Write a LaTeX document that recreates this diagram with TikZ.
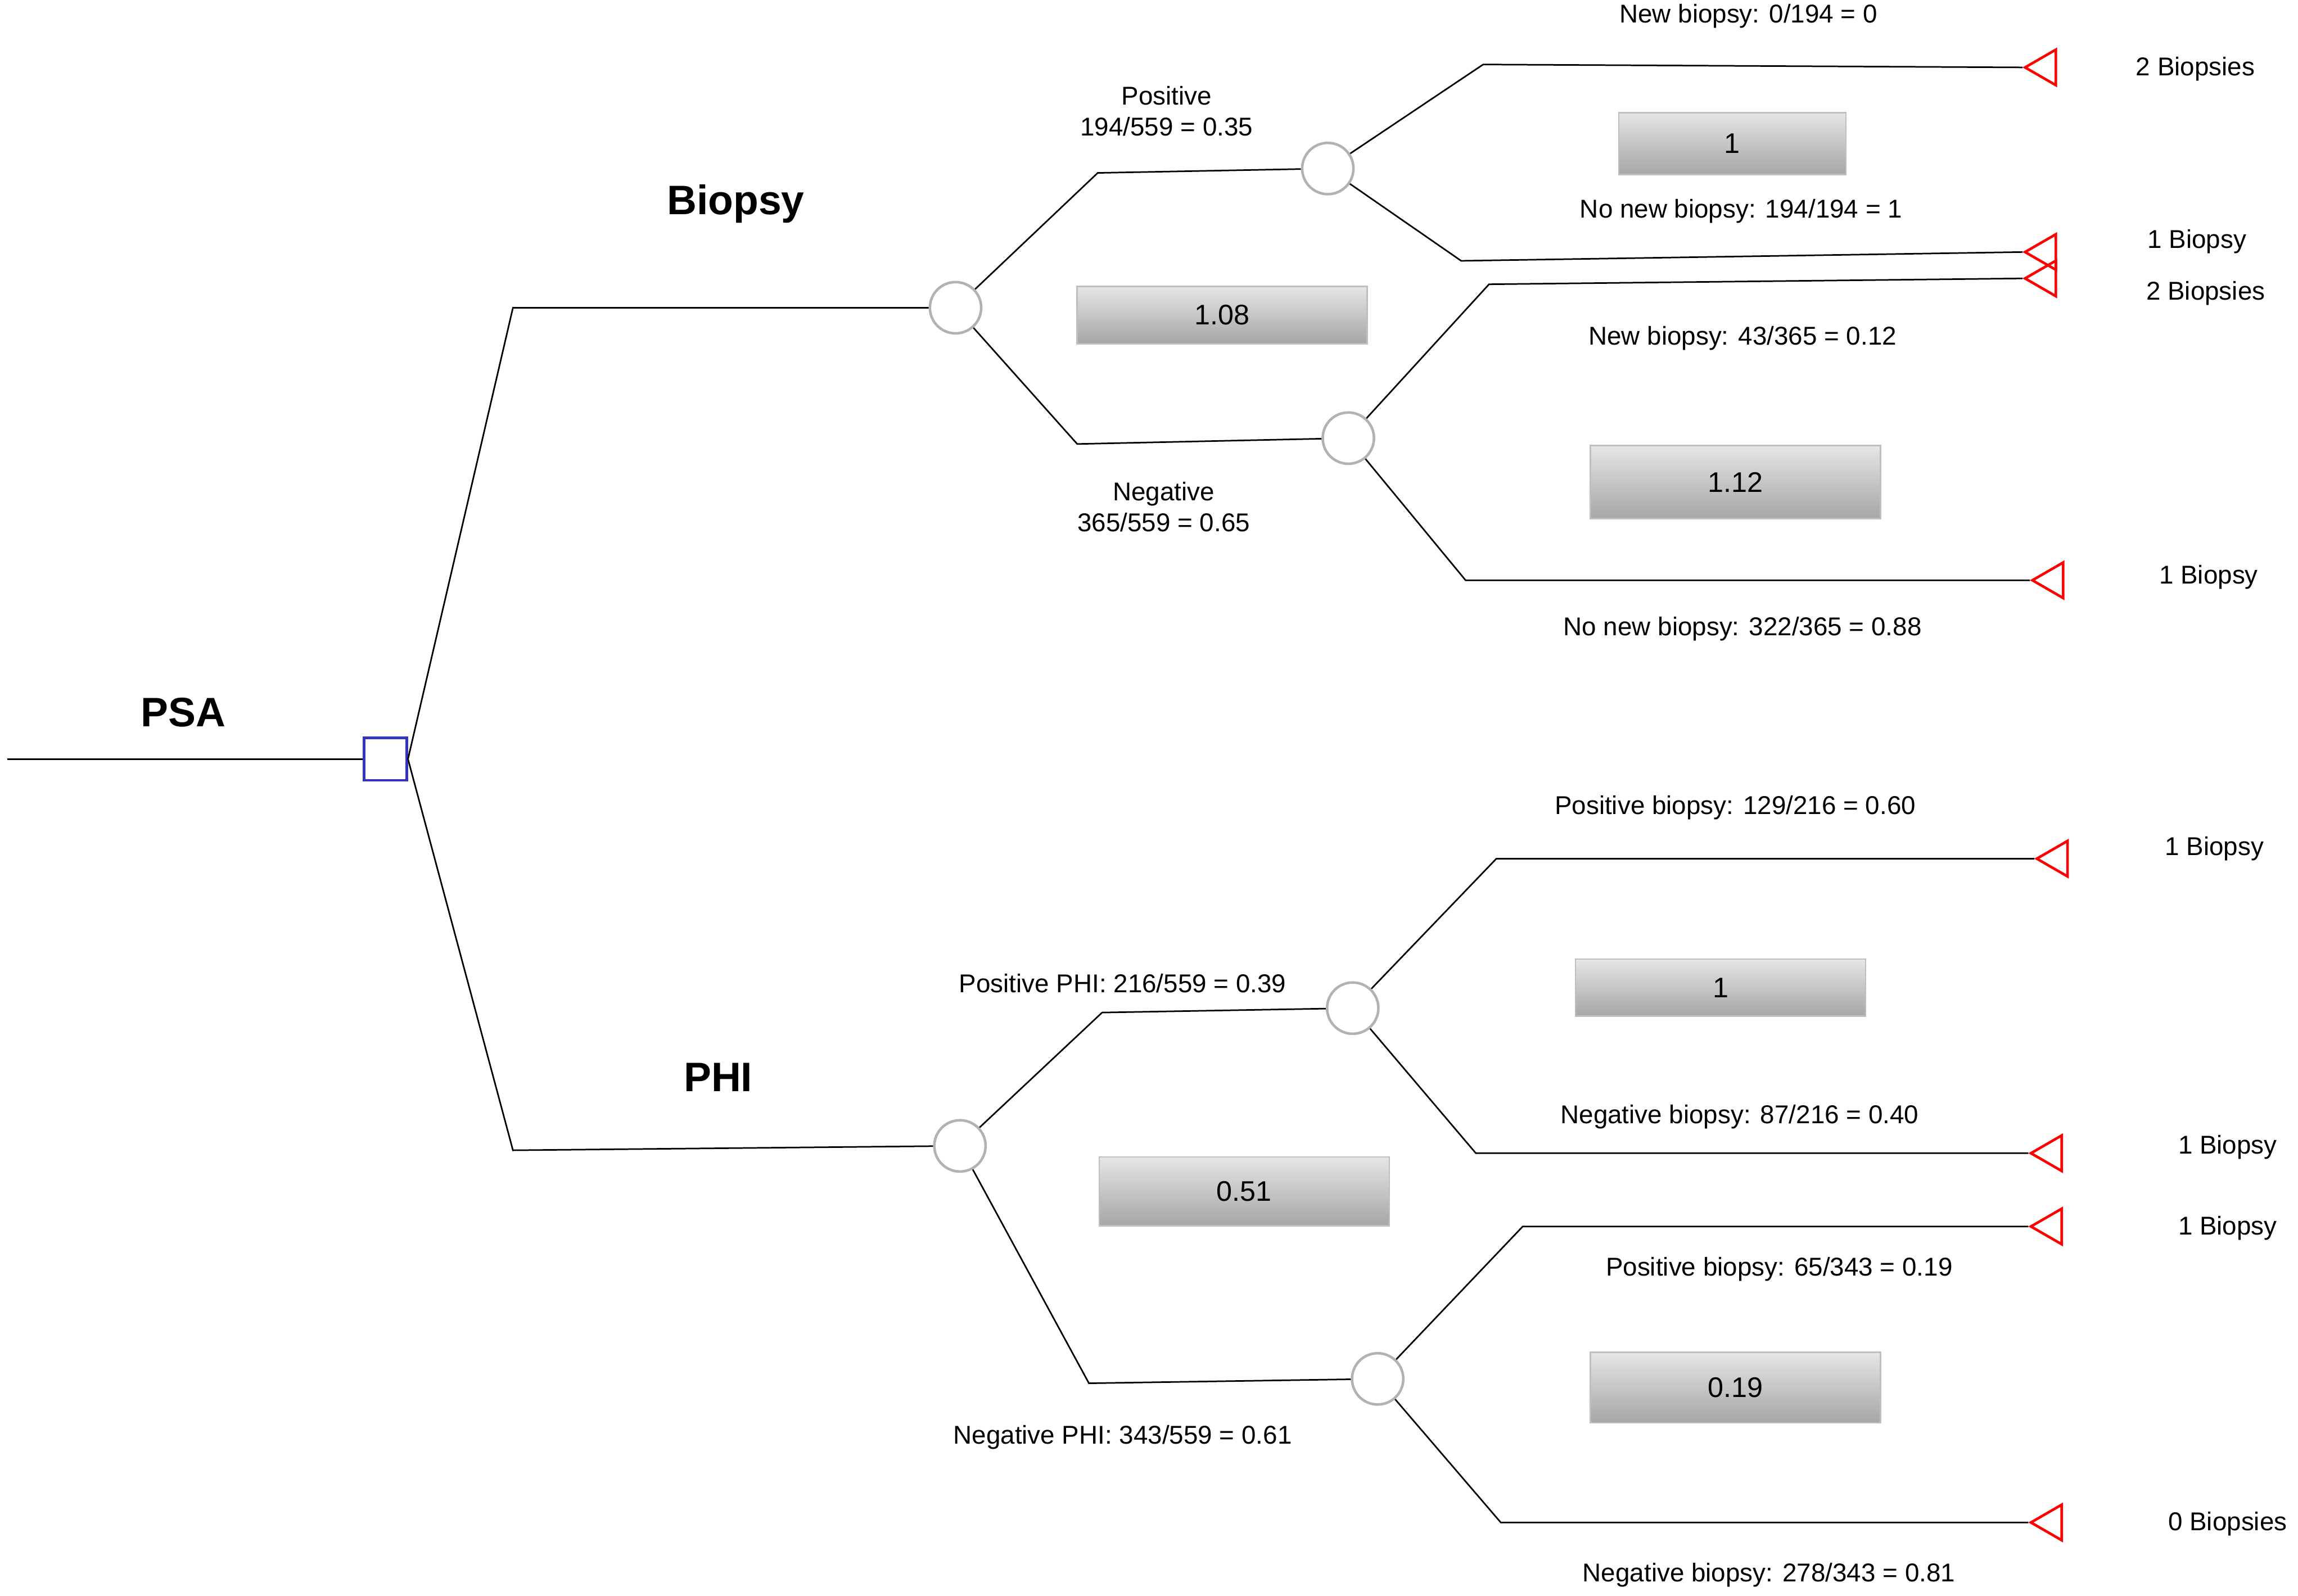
\documentclass[tikz,border=0pt]{standalone}
\usepackage{fontspec}
\setmainfont{Liberation Sans}
\begin{document}
\begin{tikzpicture}[x=0.02cm,y=-0.02cm,
  chance/.style={circle,draw=black!30,line width=1pt,minimum size=0.7cm,inner sep=0pt,fill=white},
  dec/.style={draw=blue!70!black!80,line width=1pt,minimum size=0.58cm,inner sep=0pt,fill=white},
  term/.style={isosceles triangle,shape border rotate=180,draw=red,line width=1pt,minimum height=0.42cm,minimum width=0.42cm,inner sep=0pt,isosceles triangle apex angle=60},
  val/.style={draw=black!25,top color=black!10,bottom color=black!35,minimum width=#1,inner sep=0pt,font=\fontsize{11}{13}\selectfont},
  lab/.style={font=\fontsize{10}{12}\selectfont,align=center},
  big/.style={font=\fontsize{16}{18}\selectfont\bfseries},
  every path/.style={line width=0.6pt}]
\useasboundingbox (0,0) rectangle (1568,1089);
\usetikzlibrary{shapes.geometric}
\coordinate (start) at (5,518);
\node[dec] (S) at (263,518) {};
\node[chance] (B) at (652,210) {};
\node[chance] (P) at (655,782) {};
\node[chance] (B1) at (906,115) {};
\node[chance] (B2) at (920,299) {};
\node[chance] (P1) at (923,688) {};
\node[chance] (P2) at (940,941) {};
\node[term,anchor=apex] (T1) at (1380,46) {};
\node[term,anchor=apex] (T2) at (1380,172) {};
\node[term,anchor=apex] (T3) at (1380,190) {};
\node[term,anchor=apex] (T4) at (1385,396) {};
\node[term,anchor=apex] (T5) at (1388,586) {};
\node[term,anchor=apex] (T6) at (1384,787) {};
\node[term,anchor=apex] (T7) at (1384,837) {};
\node[term,anchor=apex] (T8) at (1384,1039) {};
\draw (start) -- (S);
\draw (S.east) -- (350,210) -- (B);
\draw (S.east) -- (350,785) -- (P);
\draw (B) -- (749,118) -- (B1);
\draw (B) -- (735,303) -- (B2);
\draw (B1) -- (1012,44) -- (T1.apex);
\draw (B1) -- (997,178) -- (T2.apex);
\draw (B2) -- (1016,194) -- (T3.apex);
\draw (B2) -- (1000,396) -- (T4.apex);
\draw (P) -- (752,691) -- (P1);
\draw (P) -- (743,944) -- (P2);
\draw (P1) -- (1021,586) -- (T5.apex);
\draw (P1) -- (1007,787) -- (T6.apex);
\draw (P2) -- (1039,837) -- (T7.apex);
\draw (P2) -- (1024,1039) -- (T8.apex);
\node[big] (lpsa) at (125,486) {PSA};
\node[big] (lbio) at (502,139) {Biopsy};
\node[big] (lphi) at (490,735) {PHI};
\node[val=3.1cm,minimum height=0.84cm] (v1) at (1182,98) {1};
\node[val=3.96cm,minimum height=0.78cm] (v2) at (834,215) {1.08};
\node[val=3.96cm,minimum height=1.0cm] (v3) at (1184,329) {1.12};
\node[val=3.96cm,minimum height=0.78cm] (v4) at (1174,674) {1};
\node[val=3.96cm,minimum height=0.94cm] (v5) at (849,813) {0.51};
\node[val=3.96cm,minimum height=0.96cm] (v6) at (1184,947) {0.19};
\node[lab] at (796,76) {Positive\\194/559 = 0.35};
\node[lab] at (794,346) {Negative\\365/559 = 0.65};
\node[lab] at (1193,11) {New biopsy: 0/194 = 0};
\node[lab] at (1188,144) {No new biopsy: 194/194 = 1};
\node[lab] at (1189,231) {New biopsy: 43/365 = 0.12};
\node[lab] at (1189,429) {No new biopsy: 322/365 = 0.88};
\node[lab] at (766,671) {Positive PHI: 216/559 = 0.39};
\node[lab] at (766,981) {Negative PHI: 343/559 = 0.61};
\node[lab] at (1184,551) {Positive biopsy: 129/216 = 0.60};
\node[lab] at (1187,762) {Negative biopsy: 87/216 = 0.40};
\node[lab] at (1214,866) {Positive biopsy: 65/343 = 0.19};
\node[lab] at (1207,1075) {Negative biopsy: 278/343 = 0.81};
\node[lab] at (1498,47) {2 Biopsies};
\node[lab] at (1499,165) {1 Biopsy};
\node[lab] at (1505,200) {2 Biopsies};
\node[lab] at (1507,394) {1 Biopsy};
\node[lab] at (1511,579) {1 Biopsy};
\node[lab] at (1520,783) {1 Biopsy};
\node[lab] at (1520,838) {1 Biopsy};
\node[lab] at (1520,1040) {0 Biopsies};
\end{tikzpicture}
\end{document}
